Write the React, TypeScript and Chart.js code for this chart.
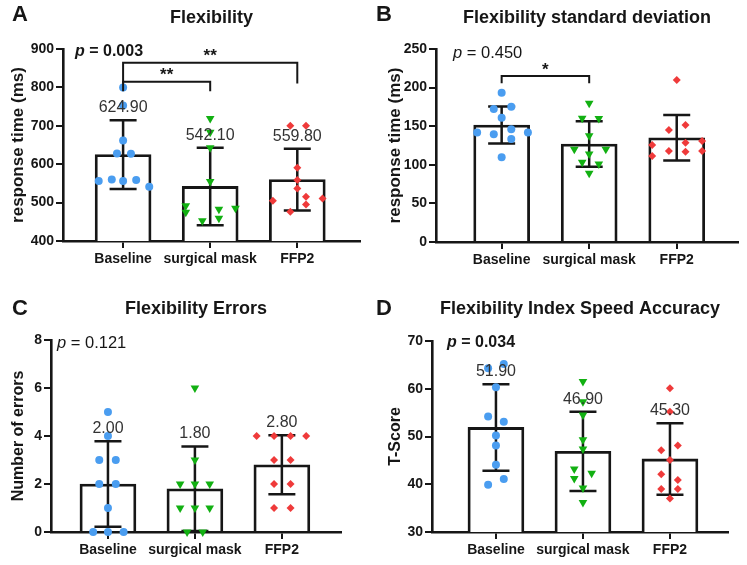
import React, { useEffect, useRef } from 'react';
import { Chart, registerables } from 'chart.js';

Chart.register(...registerables);

const categories = ['Baseline', 'surgical mask', 'FFP2'];

// Panel A — Flexibility (response time, ms)
const flexMeans = [624.9, 542.1, 559.8];
const flexSD = [89.5, 101, 80.5];
const flexBaseline = [800, 753, 662, 628, 627, 556, 560, 556, 559, 541];
const flexBaselineJitter = [0, 0, 0, -0.07, 0.09, -0.28, -0.13, 0, 0.15, 0.3];
const flexSurgical = [719, 683, 643, 555, 492, 475, 453, 483, 459, 485];
const flexSurgicalJitter = [0, 0, 0, 0, -0.28, -0.28, -0.09, 0.1, 0.1, 0.29];
const flexFFP2 = [700, 700, 591, 559, 537, 505, 515, 495, 511, 476];
const flexFFP2Jitter = [-0.08, 0.1, 0, 0, 0, -0.28, 0.1, 0.1, 0.29, -0.08];
const flexYTicks = [400, 900, 100];

// Panel B — Flexibility standard deviation (ms)
const sdMeans = [151.5, 127, 135];
const sdSD = [24, 29.5, 29.5];
const sdBaseline = [193.4, 172.3, 175.3, 161, 142, 139.5, 146, 133.4, 142, 109.7];
const sdBaselineJitter = [0, -0.09, 0.11, 0, -0.28, -0.09, 0.11, 0.11, 0.3, 0];
const sdSurgical = [179.7, 160.3, 160, 137.5, 120.3, 120, 114, 103.4, 101, 89];
const sdSurgicalJitter = [0, -0.08, 0.11, 0, -0.17, 0.19, 0, -0.08, 0.11, 0];
const sdFFP2 = [209.8, 145, 151.6, 125.6, 111.4, 117.9, 128.6, 117, 130.8, 117.9];
const sdFFP2Jitter = [0, -0.09, 0.1, -0.28, -0.28, -0.09, 0.1, 0.1, 0.29, 0.29];
const sdYTicks = [0, 250, 50];

// Panel C — Flexibility Errors
const errMeans = [2.0, 1.8, 2.8];
const errSD = [1.78, 1.76, 1.23];
const errBaseline = [5, 4, 3, 3, 2, 2, 1, 0, 0, 0];
const errBaselineJitter = [0, 0, -0.1, 0.09, -0.1, 0.09, 0, -0.17, 0, 0.18];
const errSurgical = [6, 3, 2, 2, 2, 1, 1, 1, 0, 0];
const errSurgicalJitter = [0, 0, -0.17, 0, 0.17, -0.17, 0, 0.17, -0.09, 0.09];
const errFFP2 = [4, 4, 4, 4, 3, 3, 2, 2, 1, 1];
const errFFP2Jitter = [-0.29, -0.09, 0.1, 0.28, -0.09, 0.1, -0.09, 0.1, -0.09, 0.1];
const errYTicks = [0, 8, 2];

// Panel D — Flexibility Index Speed Accuracy (T-Score)
const idxMeans = [51.9, 46.9, 45.3];
const idxSD = [9.05, 8.3, 7.5];
const idxBaseline = [64.3, 65.2, 60.3, 54.2, 53.1, 50.2, 48.1, 44.1, 39.9, 41.1];
const idxBaselineJitter = [-0.09, 0.09, 0, -0.09, 0.09, 0, 0, 0, -0.09, 0.09];
const idxSurgical = [61.5, 57.3, 54.5, 49.3, 47.4, 43.2, 41.2, 42.3, 39.2, 36.2];
const idxSurgicalJitter = [0, 0, 0, 0, 0, -0.1, -0.1, 0.1, 0, 0];
const idxFFP2 = [60.1, 55.2, 48.1, 47.1, 45.1, 42.1, 40.9, 39.0, 39.0, 37.0];
const idxFFP2Jitter = [0, 0, 0.09, -0.1, 0, -0.1, 0.09, -0.1, 0.09, 0];
const idxYTicks = [30, 70, 10];

// Significance brackets: from/to are category numbers, y in data units
const flexBrackets = [
  { from: 1, to: 2, y: 815, drop: 25, label: '**' },
  { from: 1, to: 3, y: 864, drop: 54, label: '**' },
];
const sdBrackets = [{ from: 1, to: 2, y: 215, drop: 9.5, label: '*' }];

const groupColors = ['#4a9df0', '#12b012', '#ef3a3a'];
const groupShapes = ['circle', 'triangle', 'rectRot'];
const groupRadius = [4, 5, 4];
const groupRotation = [0, 180, 0];

const FONT = '"Liberation Sans", Arial, Helvetica, sans-serif';
const INK = '#161616';

interface Bracket { from: number; to: number; y: number; drop: number; label: string }
interface PanelSpec {
  id: string; letter: string; title: string; yTitle: string;
  ticks: number[]; means: number[]; sds: number[];
  groups: number[][]; jitters: number[][];
  showValues: boolean; pText: string; pBold: boolean; brackets: Bracket[];
  ox: number; oy: number; w: number; h: number;
  L: number; T: number; R: number; Hx: number; xMin: number; xMax: number;
  letterX: number; letterY: number; titleY: number;
  yTitleX: number; yTitleSize: number; pX: number; pY: number; pSize: number;
}

const panels: PanelSpec[] = [
  {
    id: 'A', letter: 'A', title: 'Flexibility', yTitle: 'response time (ms)',
    ticks: flexYTicks, means: flexMeans, sds: flexSD,
    groups: [flexBaseline, flexSurgical, flexFFP2],
    jitters: [flexBaselineJitter, flexSurgicalJitter, flexFFP2Jitter],
    showValues: true, pText: '0.003', pBold: true, brackets: flexBrackets,
    ox: 0, oy: 0, w: 373, h: 280, L: 63, T: 49, R: 13, Hx: 39, xMin: 0.31, xMax: 3.72,
    letterX: 12, letterY: 15, titleY: 18, yTitleX: 18, yTitleSize: 17, pX: 75, pY: 52, pSize: 16,
  },
  {
    id: 'B', letter: 'B', title: 'Flexibility standard deviation', yTitle: 'response time (ms)',
    ticks: sdYTicks, means: sdMeans, sds: sdSD,
    groups: [sdBaseline, sdSurgical, sdFFP2],
    jitters: [sdBaselineJitter, sdSurgicalJitter, sdFFP2Jitter],
    showValues: false, pText: '0.450', pBold: false, brackets: sdBrackets,
    ox: 373, oy: 0, w: 374, h: 280, L: 63, T: 49, R: 9, Hx: 38, xMin: 0.25, xMax: 3.7,
    letterX: 3, letterY: 15, titleY: 18, yTitleX: 22, yTitleSize: 17, pX: 80, pY: 53, pSize: 16.5,
  },
  {
    id: 'C', letter: 'C', title: 'Flexibility Errors', yTitle: 'Number of errors',
    ticks: errYTicks, means: errMeans, sds: errSD,
    groups: [errBaseline, errSurgical, errFFP2],
    jitters: [errBaselineJitter, errSurgicalJitter, errFFP2Jitter],
    showValues: true, pText: '0.121', pBold: false, brackets: [],
    ox: 0, oy: 280, w: 373, h: 285, L: 51, T: 60, R: 32, Hx: 33, xMin: 0.345, xMax: 3.68,
    letterX: 12, letterY: 29, titleY: 29, yTitleX: 19, yTitleSize: 16, pX: 57, pY: 63, pSize: 16.5,
  },
  {
    id: 'D', letter: 'D', title: 'Flexibility Index Speed Accuracy', yTitle: 'T-Score',
    ticks: idxYTicks, means: idxMeans, sds: idxSD,
    groups: [idxBaseline, idxSurgical, idxFFP2],
    jitters: [idxBaselineJitter, idxSurgicalJitter, idxFFP2Jitter],
    showValues: true, pText: '0.034', pBold: true, brackets: [],
    ox: 373, oy: 280, w: 374, h: 285, L: 59, T: 61, R: 19, Hx: 33, xMin: 0.265, xMax: 3.667,
    letterX: 3, letterY: 29, titleY: 29, yTitleX: 23, yTitleSize: 16, pX: 74, pY: 63, pSize: 16,
  },
];

function makeDecor(spec: PanelSpec) {
  return {
    id: 'decor' + spec.id,
    afterDatasetDraw(chart: any, args: any) {
      if (args.meta.type !== 'bar') return;
      const ctx = chart.ctx;
      const xs = chart.scales.x;
      const ys = chart.scales.y;
      const cap = 13.5;
      ctx.save();
      ctx.strokeStyle = INK;
      ctx.lineWidth = 2.5;
      spec.means.forEach((m, i) => {
        const px = xs.getPixelForValue(i + 1);
        const top = ys.getPixelForValue(m + spec.sds[i]);
        const bot = ys.getPixelForValue(Math.max(m - spec.sds[i], spec.ticks[0]));
        ctx.beginPath();
        ctx.moveTo(px, top);
        ctx.lineTo(px, bot);
        ctx.moveTo(px - cap, top);
        ctx.lineTo(px + cap, top);
        ctx.moveTo(px - cap, bot);
        ctx.lineTo(px + cap, bot);
        ctx.stroke();
      });
      ctx.restore();
    },
    afterDraw(chart: any) {
      const ctx = chart.ctx;
      const xs = chart.scales.x;
      const ys = chart.scales.y;
      const area = chart.chartArea;
      ctx.save();
      ctx.fillStyle = INK;
      // panel letter
      ctx.font = `bold 22px ${FONT}`;
      ctx.textAlign = 'left';
      ctx.textBaseline = 'middle';
      ctx.fillText(spec.letter, spec.letterX, spec.letterY);
      // title
      ctx.font = `bold 18px ${FONT}`;
      ctx.textAlign = 'center';
      ctx.fillText(spec.title, (area.left + area.right) / 2, spec.titleY);
      // y-axis title
      ctx.save();
      ctx.translate(spec.yTitleX, (area.top + area.bottom) / 2);
      ctx.rotate(-Math.PI / 2);
      ctx.font = `bold ${spec.yTitleSize}px ${FONT}`;
      ctx.textAlign = 'center';
      ctx.textBaseline = 'middle';
      ctx.fillText(spec.yTitle, 0, 0);
      ctx.restore();
      // p value
      const w = spec.pBold ? 'bold ' : '';
      ctx.textAlign = 'left';
      ctx.textBaseline = 'middle';
      ctx.font = `italic ${w}${spec.pSize}px ${FONT}`;
      ctx.fillText('p', spec.pX, spec.pY);
      const pw = ctx.measureText('p').width;
      ctx.font = `${w}${spec.pSize}px ${FONT}`;
      ctx.fillText(' = ' + spec.pText, spec.pX + pw, spec.pY);
      // mean value labels
      if (spec.showValues) {
        ctx.font = `16px ${FONT}`;
        ctx.fillStyle = '#333';
        ctx.textAlign = 'center';
        ctx.textBaseline = 'middle';
        spec.means.forEach((m, i) => {
          const px = xs.getPixelForValue(i + 1);
          const top = ys.getPixelForValue(m + spec.sds[i]);
          ctx.fillText(m.toFixed(2), px, top - 12.5);
        });
      }
      // significance brackets
      ctx.strokeStyle = INK;
      ctx.fillStyle = INK;
      ctx.lineWidth = 2;
      spec.brackets.forEach((b) => {
        const x1 = xs.getPixelForValue(b.from);
        const x2 = xs.getPixelForValue(b.to);
        const yb = ys.getPixelForValue(b.y);
        const yl = ys.getPixelForValue(b.y - b.drop);
        ctx.beginPath();
        ctx.moveTo(x1, yl);
        ctx.lineTo(x1, yb);
        ctx.lineTo(x2, yb);
        ctx.lineTo(x2, yl);
        ctx.stroke();
        ctx.font = `bold 17px ${FONT}`;
        ctx.textAlign = 'center';
        ctx.textBaseline = 'alphabetic';
        ctx.fillText(b.label, (x1 + x2) / 2, yb - 1.5);
      });
      ctx.restore();
    },
  };
}

function Panel({ spec }: { spec: PanelSpec }) {
  const ref = useRef<HTMLCanvasElement>(null);
  useEffect(() => {
    const canvas = ref.current!;
    const datasets: any[] = [
      {
        type: 'bar',
        data: spec.means.map((m, i) => ({ x: i + 1, y: m })),
        backgroundColor: '#ffffff',
        borderColor: INK,
        borderWidth: 2.8,
        barThickness: 56,
        order: 2,
      },
      ...spec.groups.map((vals, g) => ({
        type: 'scatter',
        data: vals.map((v, k) => ({ x: g + 1 + spec.jitters[g][k], y: v })),
        pointStyle: groupShapes[g],
        pointRadius: groupRadius[g],
        pointRotation: groupRotation[g],
        backgroundColor: groupColors[g],
        borderColor: groupColors[g],
        borderWidth: 0,
        showLine: false,
        clip: false,
        order: 1,
      })),
    ];
    const chart = new Chart(canvas, {
      type: 'bar',
      data: { datasets },
      options: {
        responsive: false,
        animation: false,
        events: [],
        layout: { padding: { left: 0, top: spec.T, right: spec.R, bottom: 0 } },
        plugins: { legend: { display: false }, tooltip: { enabled: false }, title: { display: false } },
        scales: {
          x: {
            type: 'linear',
            min: spec.xMin,
            max: spec.xMax,
            offset: false,
            afterBuildTicks: (s: any) => {
              s.ticks = categories.map((_, i) => ({ value: i + 1 }));
            },
            afterFit: (s: any) => {
              s.height = spec.Hx;
            },
            ticks: {
              autoSkip: false,
              maxRotation: 0,
              padding: 3,
              color: INK,
              font: { family: FONT, size: 14, weight: 'bold' },
              callback: (_v: any, i: number) => categories[i],
            },
            grid: { offset: false, drawOnChartArea: false, drawTicks: true, tickLength: 7, color: INK, lineWidth: 2 },
            border: { display: true, color: INK, width: 2.6 },
          },
          y: {
            type: 'linear',
            min: spec.ticks[0],
            max: spec.ticks[1],
            afterFit: (s: any) => {
              s.width = spec.L;
            },
            ticks: {
              stepSize: spec.ticks[2],
              padding: 2,
              color: INK,
              font: { family: FONT, size: 14, weight: 'bold' },
            },
            grid: { drawOnChartArea: false, drawTicks: true, tickLength: 7, color: INK, lineWidth: 2 },
            border: { display: true, color: INK, width: 2.6 },
          },
        },
      } as any,
      plugins: [makeDecor(spec)],
    } as any);
    return () => chart.destroy();
  }, [spec]);
  return (
    <canvas
      ref={ref}
      width={spec.w}
      height={spec.h}
      style={{ position: 'absolute', left: spec.ox, top: spec.oy, width: spec.w, height: spec.h }}
    />
  );
}

export default function App() {
  return (
    <div style={{ position: 'absolute', left: 0, top: 0, width: 747, height: 565, background: '#ffffff', overflow: 'hidden' }}>
      {panels.map((p) => (
        <Panel key={p.id} spec={p} />
      ))}
    </div>
  );
}
